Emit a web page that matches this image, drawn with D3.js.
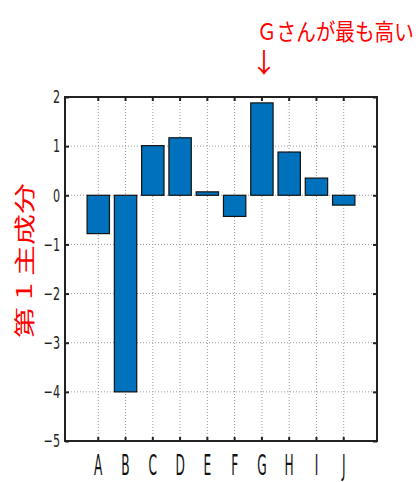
<!DOCTYPE html>
<html>
<head>
<meta charset="utf-8">
<script src="https://cdn.jsdelivr.net/npm/d3@7"></script>
<style>
  body { margin: 0; background: #fff; }
  svg { display: block; }
</style>
</head>
<body>
<svg id="chart" width="419" height="482"></svg>
<script>
// data
const people = ["A", "B", "C", "D", "E", "F", "G", "H", "I", "J"];
const scores = [-0.78, -4.0, 1.01, 1.17, 0.07, -0.43, 1.88, 0.88, 0.35, -0.2];
const yTicks = [-5, -4, -3, -2, -1, 0, 1, 2];

const svg = d3.select("#chart");
const plot = { left: 65, right: 377, top: 97, bottom: 441 };

const x = d3.scaleBand()
    .domain(people)
    .range([plot.left, plot.right])
    .paddingInner(0.18)
    .paddingOuter(0.81);
const y = d3.scaleLinear().domain([-5, 2]).range([plot.bottom, plot.top]);
const cx = d => x(d) + x.bandwidth() / 2;

// grid
const grid = svg.append("g").attr("stroke", "#9a9a9a").attr("stroke-dasharray", "1,2").attr("stroke-width", 1);
grid.selectAll(".vg").data(people).join("line")
    .attr("x1", d => cx(d)).attr("x2", d => cx(d))
    .attr("y1", plot.top).attr("y2", plot.bottom);
grid.selectAll(".hg").data(yTicks).join("line")
    .attr("x1", plot.left).attr("x2", plot.right)
    .attr("y1", d => y(d)).attr("y2", d => y(d));

// bars
svg.append("g").selectAll("rect").data(people).join("rect")
    .attr("x", d => x(d))
    .attr("width", x.bandwidth())
    .attr("y", (d, i) => y(Math.max(0, scores[i])))
    .attr("height", (d, i) => Math.abs(y(scores[i]) - y(0)))
    .attr("fill", "#0072BD")
    .attr("stroke", "#111")
    .attr("stroke-width", 1.2);

// axes
const tickFont = "'DejaVu Sans', sans-serif";
const xAxis = svg.append("g")
    .attr("transform", `translate(0,${plot.bottom})`)
    .call(d3.axisBottom(x).tickSize(-4).tickSizeOuter(0).tickPadding(13));
xAxis.select(".domain").remove();
xAxis.selectAll("line").attr("stroke", "#222").attr("stroke-width", 2);
xAxis.selectAll("text")
    .attr("font-family", tickFont)
    .attr("font-size", 29)
    .attr("fill", "#111")
    .attr("transform", "scale(0.42,1)");

const xTop = svg.append("g")
    .attr("transform", `translate(0,${plot.top})`)
    .call(d3.axisTop(x).tickSize(-4).tickSizeOuter(0).tickFormat(""));
xTop.select(".domain").remove();
xTop.selectAll("line").attr("stroke", "#222").attr("stroke-width", 2);

const yAxis = svg.append("g")
    .attr("transform", `translate(${plot.left},0)`)
    .call(d3.axisLeft(y).tickValues(yTicks).tickSize(-4).tickSizeOuter(0).tickPadding(8)
        .tickFormat(d => d < 0 ? "\u2212" + Math.abs(d) : d));
yAxis.select(".domain").remove();
yAxis.selectAll("line").attr("stroke", "#222").attr("stroke-width", 2);
yAxis.selectAll("text")
    .attr("font-family", tickFont)
    .attr("font-size", 18)
    .attr("fill", "#222")
    .attr("transform", "scale(0.62,1)");

const yRight = svg.append("g")
    .attr("transform", `translate(${plot.right},0)`)
    .call(d3.axisRight(y).tickValues(yTicks).tickSize(-4).tickSizeOuter(0).tickFormat(""));
yRight.select(".domain").remove();
yRight.selectAll("line").attr("stroke", "#222").attr("stroke-width", 2);

// box
svg.append("rect")
    .attr("x", plot.left).attr("y", plot.top)
    .attr("width", plot.right - plot.left).attr("height", plot.bottom - plot.top)
    .attr("fill", "none")
    .attr("stroke", "#222")
    .attr("stroke-width", 2);

// y label
svg.append("text")
    .attr("transform", `translate(32,${(183 + 338) / 2}) rotate(-90)`)
    .attr("text-anchor", "middle")
    .attr("font-family", "'Noto Sans CJK JP', sans-serif")
    .attr("font-size", 21)
    .attr("fill", "#ff0000")
    .attr("textLength", 155)
    .attr("lengthAdjust", "spacingAndGlyphs")
    .text("第 1 主成分");

// annotation
svg.append("text")
    .attr("transform", "translate(257,40) scale(0.98,1.15)")
    .attr("font-family", "'Noto Sans CJK JP', sans-serif")
    .attr("font-size", 20)
    .attr("fill", "#ff0000")
    .text("Ｇさんが最も高い");

svg.append("text")
    .attr("x", cx("G") + 2).attr("y", 73)
    .attr("text-anchor", "middle")
    .attr("font-family", "'Noto Sans CJK JP', sans-serif")
    .attr("font-size", 27)
    .attr("fill", "#ff0000")
    .text("↓");
</script>
</body>
</html>
